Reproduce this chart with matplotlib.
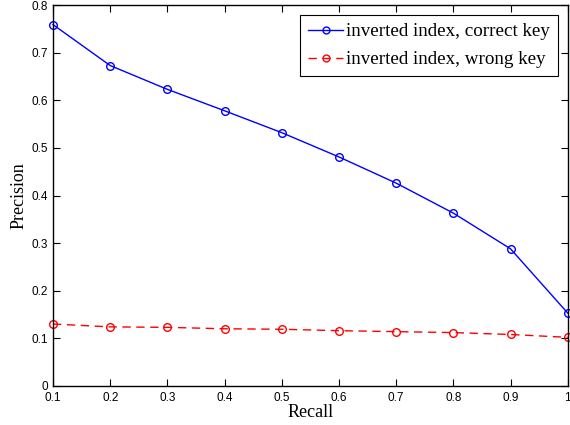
import matplotlib
matplotlib.use("Agg")
import matplotlib.pyplot as plt

recall = [0.1, 0.2, 0.3, 0.4, 0.5, 0.6, 0.7, 0.8, 0.9, 1.0]
prec_correct = [0.759, 0.673, 0.623, 0.578, 0.532, 0.481, 0.426, 0.363, 0.288, 0.153]
prec_wrong = [0.130, 0.124, 0.123, 0.120, 0.119, 0.116, 0.114, 0.112, 0.108, 0.102]
xticks = [0.1, 0.2, 0.3, 0.4, 0.5, 0.6, 0.7, 0.8, 0.9, 1.0]
xticklabels = ["0.1", "0.2", "0.3", "0.4", "0.5", "0.6", "0.7", "0.8", "0.9", "1"]
yticks = [0, 0.1, 0.2, 0.3, 0.4, 0.5, 0.6, 0.7, 0.8]
yticklabels = ["0", "0.1", "0.2", "0.3", "0.4", "0.5", "0.6", "0.7", "0.8"]

fig = plt.figure(figsize=(5.7, 4.25), dpi=100)
ax = fig.add_axes([0.093, 0.092, 0.903, 0.896])

ax.plot(recall, prec_correct, color="#0000ff", linestyle="-", marker="o",
        markerfacecolor="none", markeredgecolor="#0000ff", markersize=5.5, linewidth=1.0,
        label="inverted index, correct key", clip_on=False)
ax.plot(recall, prec_wrong, color="#ff0000", linestyle=(0, (6, 4)), marker="o",
        markerfacecolor="none", markeredgecolor="#ff0000", markersize=5.5, linewidth=1.0,
        label="inverted index, wrong key", clip_on=False)

ax.set_xlim(0.1, 1.0)
ax.set_ylim(0, 0.8)
ax.set_xticks(xticks)
ax.set_xticklabels(xticklabels, fontfamily="Liberation Sans", fontsize=8.5)
ax.set_yticks(yticks)
ax.set_yticklabels(yticklabels, fontfamily="Liberation Sans", fontsize=8.5)
ax.tick_params(axis="x", direction="in", top=True, length=5, width=0.8, pad=4.5)
ax.tick_params(axis="y", direction="in", right=True, length=5, width=0.8, pad=3.5)
for s in ax.spines.values():
    s.set_linewidth(1.0)

ax.set_xlabel("Recall", fontfamily="Liberation Serif", fontsize=13, labelpad=0)
ax.set_ylabel("Precision", fontfamily="Liberation Serif", fontsize=13, labelpad=3)

leg = ax.legend(loc="upper right", prop={"family": "Liberation Serif", "size": 13.7},
                fancybox=False, edgecolor="black", framealpha=1, borderpad=0.42,
                handlelength=1.85, handletextpad=0.14, labelspacing=0.56,
                borderaxespad=0.52, markerscale=0.9)
leg.get_frame().set_linewidth(0.8)

fig.savefig("out.png", dpi=100)
